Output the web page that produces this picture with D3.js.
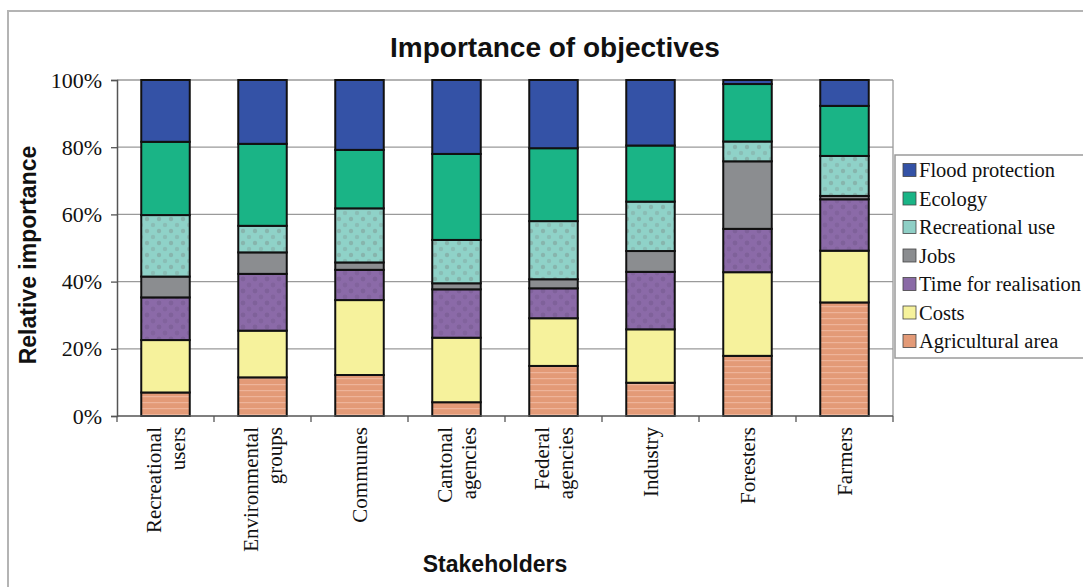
<!DOCTYPE html>
<html>
<head>
<meta charset="utf-8">
<script src="https://cdn.jsdelivr.net/npm/d3@7"></script>
<style>
  html, body { margin: 0; padding: 0; background: #fff; }
  svg { display: block; }
</style>
</head>
<body>
<svg id="chart" width="1083" height="587"></svg>
<script>
// ---- Data ----
const categories = [
  ["Recreational", "users"],
  ["Environmental", "groups"],
  ["Communes"],
  ["Cantonal", "agencies"],
  ["Federal", "agencies"],
  ["Industry"],
  ["Foresters"],
  ["Farmers"]
];
const seriesNames = ["Agricultural area", "Costs", "Time for realisation", "Jobs", "Recreational use", "Ecology", "Flood protection"];
const agricultural = [7.0, 11.5, 12.2, 4.1, 14.9, 9.9, 17.9, 33.8];
const costs        = [15.6, 13.9, 22.3, 19.2, 14.2, 15.9, 24.9, 15.4];
const timeReal     = [12.7, 16.9, 9.0, 14.4, 8.9, 17.1, 12.9, 15.3];
const jobs         = [6.2, 6.4, 2.2, 1.8, 2.7, 6.2, 20.1, 1.0];
const recreational = [18.3, 7.9, 16.1, 12.9, 17.3, 14.7, 5.9, 11.9];
const ecology      = [21.8, 24.4, 17.4, 25.6, 21.7, 16.7, 17.1, 14.9];
const flood        = [18.4, 19.0, 20.8, 22.0, 20.3, 19.5, 1.2, 7.7];
const yTicks = [0, 20, 40, 60, 80, 100];
const legendOrder = ["Flood protection", "Ecology", "Recreational use", "Jobs", "Time for realisation", "Costs", "Agricultural area"];

const seriesValues = [agricultural, costs, timeReal, jobs, recreational, ecology, flood];
const keys = categories.map(c => c.join(" "));
const table = keys.map((k, i) => {
  const row = { key: k };
  seriesNames.forEach((s, j) => row[s] = seriesValues[j][i]);
  return row;
});

const svg = d3.select("#chart");
const serif = "'Liberation Serif', 'Times New Roman', serif";
const sans = "'Liberation Sans', Arial, sans-serif";

// ---- Patterns ----
const defs = svg.append("defs");
const pRec = defs.append("pattern").attr("id", "pRec").attr("patternUnits", "userSpaceOnUse")
  .attr("width", 12).attr("height", 12);
pRec.append("rect").attr("width", 12).attr("height", 12).attr("fill", "#8fd2c8");
pRec.append("circle").attr("cx", 3).attr("cy", 3).attr("r", 2.2).attr("fill", "#84a8a2").attr("opacity", 0.7);
pRec.append("circle").attr("cx", 9).attr("cy", 9).attr("r", 2.2).attr("fill", "#84a8a2").attr("opacity", 0.5);
const pTime = defs.append("pattern").attr("id", "pTime").attr("patternUnits", "userSpaceOnUse")
  .attr("width", 12).attr("height", 12);
pTime.append("rect").attr("width", 12).attr("height", 12).attr("fill", "#8b6aa8");
pTime.append("circle").attr("cx", 3).attr("cy", 3).attr("r", 2.4).attr("fill", "#7c5f96").attr("opacity", 0.8);
pTime.append("circle").attr("cx", 9).attr("cy", 9).attr("r", 2.4).attr("fill", "#7c5f96").attr("opacity", 0.6);
const pAgr = defs.append("pattern").attr("id", "pAgr").attr("patternUnits", "userSpaceOnUse")
  .attr("width", 8).attr("height", 6);
pAgr.append("rect").attr("width", 8).attr("height", 6).attr("fill", "#e39a77");
pAgr.append("rect").attr("y", 0).attr("width", 8).attr("height", 1.2).attr("fill", "#eeb49a");

const fills = {
  "Flood protection": "#3452a6",
  "Ecology": "#1ab486",
  "Recreational use": "url(#pRec)",
  "Jobs": "#8b8d90",
  "Time for realisation": "url(#pTime)",
  "Costs": "#f6f29c",
  "Agricultural area": "url(#pAgr)"
};
const legendFills = Object.assign({}, fills, {
  "Recreational use": "#8fcfc6",
  "Time for realisation": "#8a6aa6",
  "Agricultural area": "#e39a77"
});

// ---- Frame ----
svg.append("rect").attr("x", 8).attr("y", 11).attr("width", 1100).attr("height", 600)
  .attr("fill", "none").attr("stroke", "#b4b4b4").attr("stroke-width", 2);

// ---- Scales ----
const plotL = 117, plotR = 893, plotT = 80, plotB = 416;
const x = d3.scaleBand().domain(keys).range([plotL, plotR]).paddingInner(0.5).paddingOuter(0.25);
const y = d3.scaleLinear().domain([0, 100]).range([plotB, plotT]);

svg.append("g").selectAll("line").data(yTicks.filter(t => t > 0)).join("line")
  .attr("x1", plotL).attr("x2", plotR)
  .attr("y1", d => y(d)).attr("y2", d => y(d))
  .attr("stroke", "#9a9a9a").attr("stroke-width", 1.3);
svg.append("line").attr("x1", plotR).attr("x2", plotR).attr("y1", plotT).attr("y2", plotB)
  .attr("stroke", "#9a9a9a").attr("stroke-width", 1.3);

// ---- Bars ----
const stack = d3.stack().keys(seriesNames)(table);
svg.append("g").selectAll("g").data(stack).join("g")
  .attr("fill", d => fills[d.key])
  .selectAll("rect").data(d => d).join("rect")
  .attr("x", d => x(d.data.key))
  .attr("width", x.bandwidth())
  .attr("y", d => y(d[1]))
  .attr("height", d => y(d[0]) - y(d[1]))
  .attr("stroke", "#111").attr("stroke-width", 2);

// ---- Y axis ----
const yAxis = svg.append("g").attr("transform", `translate(${plotL},0)`)
  .call(d3.axisLeft(y).tickValues(yTicks).tickFormat(d => d + "%").tickSize(6).tickPadding(9));
yAxis.select(".domain").attr("stroke", "#555").attr("stroke-width", 1.5);
yAxis.selectAll(".tick line").attr("stroke", "#555").attr("stroke-width", 1.3);
yAxis.selectAll(".tick text").attr("font-family", serif)
  .attr("font-size", 22).attr("fill", "#111");

// ---- X axis ----
const step = x.step();
const boundaries = d3.range(categories.length + 1).map(i => plotL + i * step);
svg.append("line").attr("x1", plotL).attr("x2", plotR).attr("y1", plotB).attr("y2", plotB)
  .attr("stroke", "#555").attr("stroke-width", 1.5);
svg.append("g").selectAll("line").data(boundaries).join("line")
  .attr("x1", d => d).attr("x2", d => d).attr("y1", plotB).attr("y2", plotB + 6)
  .attr("stroke", "#555").attr("stroke-width", 1.3);

const catG = svg.append("g").selectAll("g").data(categories).join("g")
  .attr("transform", (d, i) => `translate(${x(keys[i]) + x.bandwidth() / 2},427) rotate(-90)`);
catG.each(function(lines) {
  const g = d3.select(this);
  const n = lines.length;
  lines.forEach((ln, j) => {
    const offset = (j - (n - 1) / 2) * 24;
    g.append("text")
      .attr("x", 0).attr("y", offset)
      .attr("dy", "0.35em")
      .attr("text-anchor", "end")
      .attr("font-family", serif)
      .attr("font-size", 21).attr("fill", "#111")
      .text(ln);
  });
});

// ---- Titles ----
svg.append("text").attr("x", 555).attr("y", 57).attr("text-anchor", "middle")
  .attr("font-family", sans).attr("font-weight", "bold")
  .attr("font-size", 28).attr("fill", "#111").text("Importance of objectives");
svg.append("text").attr("transform", "translate(36,255) rotate(-90)").attr("text-anchor", "middle")
  .attr("font-family", sans).attr("font-weight", "bold")
  .attr("font-size", 23).attr("fill", "#111").text("Relative importance");
svg.append("text").attr("x", 495).attr("y", 572).attr("text-anchor", "middle")
  .attr("font-family", sans).attr("font-weight", "bold")
  .attr("font-size", 23).attr("fill", "#111").text("Stakeholders");

// ---- Legend ----
const leg = svg.append("g");
leg.append("rect").attr("x", 895).attr("y", 155).attr("width", 220).attr("height", 203)
  .attr("fill", "#fff").attr("stroke", "#9a9a9a").attr("stroke-width", 1.5);
const li = leg.selectAll("g.item").data(legendOrder).join("g").attr("class", "item")
  .attr("transform", (d, i) => `translate(903,${170 + i * 28.5})`);
li.append("rect").attr("x", 0).attr("y", -6.5).attr("width", 13).attr("height", 13)
  .attr("fill", d => legendFills[d]).attr("stroke", "#444").attr("stroke-width", 0.8);
li.append("text").attr("x", 16).attr("y", 0).attr("dy", "0.35em")
  .attr("font-family", serif)
  .attr("font-size", 20.5).attr("fill", "#111").text(d => d);
</script>
</body>
</html>
